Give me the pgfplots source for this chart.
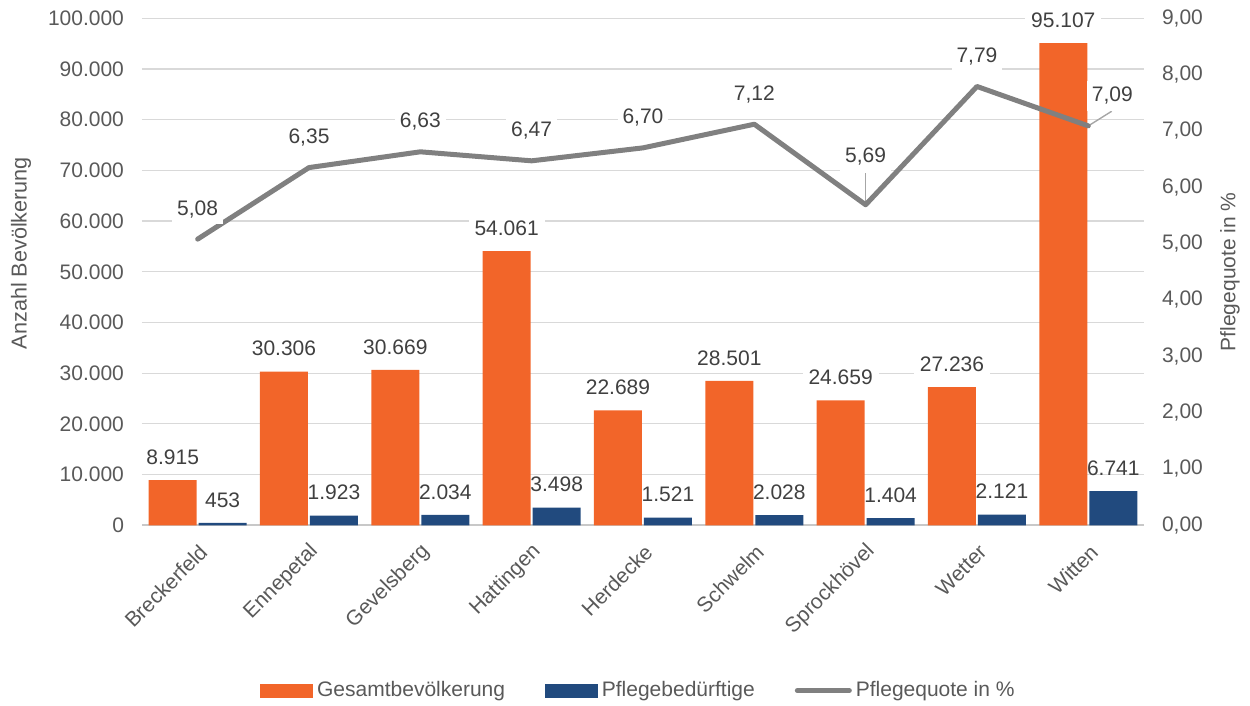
\documentclass[border=0pt]{standalone}
\usepackage{fontspec}
\setmainfont{Liberation Sans}
\usepackage{pgfplots}
\pgfplotsset{compat=1.18}
\usepackage{pgfplotstable}
\definecolor{cOrange}{RGB}{242,101,41}
\definecolor{cBlue}{RGB}{33,74,126}
\definecolor{cLine}{RGB}{128,128,128}
\definecolor{cGrid}{RGB}{217,217,217}
\definecolor{cAxis}{RGB}{200,200,200}
\definecolor{cText}{RGB}{89,89,89}
\definecolor{cLabel}{RGB}{64,64,64}
\definecolor{cLeader}{RGB}{166,166,166}
\newcommand{\fs}{\fontsize{10.5}{12.6}\selectfont}
\newcommand{\fsl}{\fontsize{10.8}{12.9}\selectfont}

\pgfplotstableread{
x ges pfl
0 8915 453
1 30306 1923
2 30669 2034
3 54061 3498
4 22689 1521
5 28501 2028
6 24659 1404
7 27236 2121
8 95107 6741
}\popdata

\pgfplotstableread{
x q dx dy
0 5.08 0 15
1 6.35 0 15
2 6.63 0 15
3 6.47 0 15
4 6.70 0 15
5 7.12 0 15
6 5.69 0 24
7 7.79 0 15
8 7.09 12 15
}\quotedata

\begin{document}
\begin{tikzpicture}
\useasboundingbox (0,0) rectangle (625pt,353pt);
\begin{axis}[
  at={(71pt,90.35pt)}, anchor=south west,
  scale only axis, width=501pt, height=253.5pt,
  xmin=-0.5, xmax=8.5, ymin=0, ymax=100000,
  axis x line*=bottom, axis y line*=left,
  x axis line style={draw=cAxis, line width=0.8pt},
  y axis line style={draw=none},
  xtick={0,...,8},
  xticklabels={Breckerfeld,Ennepetal,Gevelsberg,Hattingen,Herdecke,Schwelm,Sprockhövel,Wetter,Witten},
  ytick={0,10000,...,100000},
  scaled y ticks=false,
  major tick length=0pt,
  ymajorgrids, grid style={cGrid, line width=0.6pt},
  /pgf/number format/assume math mode=true,
  tick label style={font=\fs, text=cText},
  yticklabel style={/pgf/number format/.cd, fixed, precision=0, 1000 sep={.}, /tikz/.cd, anchor=east, xshift=-5.5pt},
  xticklabel style={inner sep=0pt, anchor=east, xshift=3pt, yshift=-11.5pt, rotate=45},
  ylabel={Anzahl Bevölkerung},
  every axis y label/.style={at={(rel axis cs:-0.1208,0.537)}, rotate=90, anchor=center, font=\fsl, text=cText},
  clip=false,
]
\addplot[ybar, bar width=24pt, bar shift=-12.5pt, fill=cOrange, draw=none,
  nodes near coords={\pgfmathprintnumber[fixed,precision=0,1000 sep={.}]{\pgfplotspointmeta}},
  every node near coord/.append style={font=\fs, text=cLabel, anchor=center, xshift=-12.5pt, yshift=11.5pt, fill=white, inner sep=3pt, /pgf/number format/assume math mode=true}]
  table[x=x, y=ges] {\popdata};
\addplot[ybar, bar width=24pt, bar shift=12.5pt, fill=cBlue, draw=none,
  nodes near coords={\pgfmathprintnumber[fixed,precision=0,1000 sep={.}]{\pgfplotspointmeta}},
  every node near coord/.append style={font=\fs, text=cLabel, anchor=center, xshift=12.5pt, yshift=11.5pt, fill=none, inner sep=3pt, /pgf/number format/assume math mode=true}]
  table[x=x, y=pfl] {\popdata};
\end{axis}
\begin{axis}[
  at={(71pt,90.35pt)}, anchor=south west,
  scale only axis, width=501pt, height=253.5pt,
  xmin=-0.5, xmax=8.5, ymin=0, ymax=9,
  axis x line=none, axis y line*=right,
  y axis line style={draw=none},
  ytick={0,...,9},
  major tick length=0pt,
  /pgf/number format/assume math mode=true,
  tick label style={font=\fs, text=cText},
  yticklabel style={/pgf/number format/.cd, fixed, fixed zerofill, precision=2, use comma, /tikz/.cd, anchor=west, xshift=5.5pt},
  ylabel={Pflegequote in \%},
  every axis y label/.style={at={(rel axis cs:1.0858,0.5)}, rotate=90, anchor=center, font=\fs, text=cText},
  legend style={at={(0.4965,-0.326)}, anchor=center, draw=none, fill=none, font=\fs, text=cText,
    legend columns=3, /tikz/every even column/.append style={column sep=18pt}},
  clip=false,
]
\addlegendimage{legend image code/.code={\fill[cOrange] (0pt,-3.25pt) rectangle (26pt,3.25pt);}}
\addlegendentry{Gesamtbevölkerung}
\addlegendimage{legend image code/.code={\fill[cBlue] (0pt,-3.25pt) rectangle (26pt,3.25pt);}}
\addlegendentry{Pflegebedürftige}
\addplot[cLeader, line width=0.7pt, forget plot] coordinates {(6,5.72) (6,6.26)};
\addplot[cLeader, line width=0.7pt, forget plot] coordinates {(8.0,7.09) (8.21,7.35)};
\addplot[cLine, line width=2.5pt, line cap=round, line join=round, mark=none,
  legend image code/.code={\draw[cLine, line width=2.5pt, line cap=round] (0pt,0pt) -- (26pt,0pt);},
  point meta=explicit,
  visualization depends on={\thisrow{dx}\as\mydx},
  visualization depends on={\thisrow{dy}\as\mydy},
  nodes near coords={\pgfmathprintnumber[fixed,fixed zerofill,precision=2,use comma]{\pgfplotspointmeta}},
  every node near coord/.append style={font=\fs, text=cLabel, anchor=center, xshift=\mydx pt, yshift=\mydy pt, fill=white, inner ysep=3pt, inner xsep=2.5pt, /pgf/number format/assume math mode=true}]
  table[x=x, y=q, meta=q] {\quotedata};
\addlegendentry{Pflegequote in \%}
\end{axis}
\end{tikzpicture}
\end{document}
